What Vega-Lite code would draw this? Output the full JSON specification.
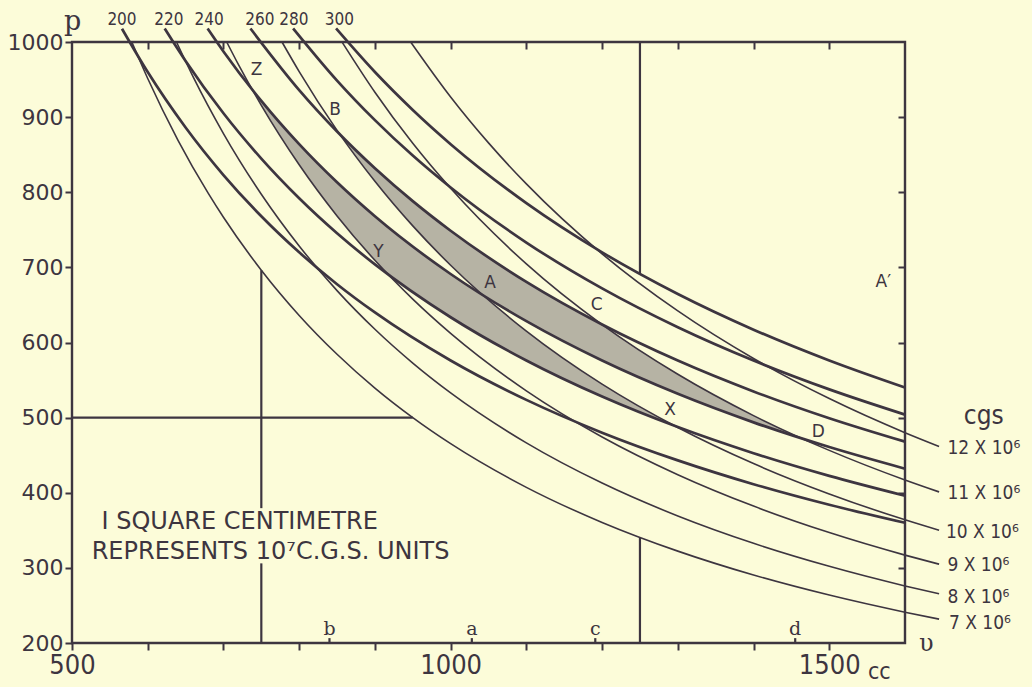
{
  "$schema": "https://vega.github.io/schema/vega-lite/v6.json",
  "width": 833,
  "height": 601,
  "autosize": "none",
  "padding": {"left": 72, "top": 42, "right": 127, "bottom": 44},
  "background": "#fcfcd9",
  "config": {
    "view": {"stroke": "#3d3540", "strokeWidth": 2.4},
    "axis": {"grid": false, "title": null}
  },
  "datasets": {
    "shade": [
      {"r": 1, "v": 738, "lo": 936.6, "hi": 936.6},
      {"r": 1, "v": 760, "lo": 898.9, "hi": 909.5},
      {"r": 1, "v": 800, "lo": 836.6, "hi": 864},
      {"r": 1, "v": 850, "lo": 768.5, "hi": 813.2},
      {"r": 1, "v": 900, "lo": 709.4, "hi": 768},
      {"r": 1, "v": 917.4, "lo": 690.6, "hi": 753.4},
      {"r": 1, "v": 950, "lo": 666.9, "hi": 727.6},
      {"r": 1, "v": 1000, "lo": 633.6, "hi": 691.2},
      {"r": 1, "v": 1042.8, "lo": 607.6, "hi": 662.8},
      {"r": 1, "v": 1100, "lo": 576, "hi": 615.1},
      {"r": 1, "v": 1150, "lo": 551, "hi": 578},
      {"r": 1, "v": 1200, "lo": 528, "hi": 544.5},
      {"r": 1, "v": 1250, "lo": 506.9, "hi": 514.3},
      {"r": 1, "v": 1296.2, "lo": 488.8, "hi": 488.8},
      {"r": 2, "v": 853.6, "lo": 877.2, "hi": 877.2},
      {"r": 2, "v": 900, "lo": 814.6, "hi": 832},
      {"r": 2, "v": 950, "lo": 755.2, "hi": 788.2},
      {"r": 2, "v": 1000, "lo": 702.8, "hi": 748.8},
      {"r": 2, "v": 1042.8, "lo": 662.8, "hi": 718.1},
      {"r": 2, "v": 1100, "lo": 628.4, "hi": 680.7},
      {"r": 2, "v": 1150, "lo": 601, "hi": 651.1},
      {"r": 2, "v": 1199.1, "lo": 576.4, "hi": 624.5},
      {"r": 2, "v": 1250, "lo": 553, "hi": 589.2},
      {"r": 2, "v": 1300, "lo": 531.7, "hi": 557.7},
      {"r": 2, "v": 1350, "lo": 512, "hi": 529},
      {"r": 2, "v": 1400, "lo": 493.7, "hi": 502.7},
      {"r": 2, "v": 1464.8, "lo": 471.9, "hi": 471.9}
    ],
    "segs": [
      {"v1": 750, "p1": 200, "v2": 750, "p2": 306},
      {"v1": 750, "p1": 379.5, "v2": 750, "p2": 696.2},
      {"v1": 1250, "p1": 200, "v2": 1250, "p2": 340.5},
      {"v1": 1250, "p1": 691.2, "v2": 1250, "p2": 1000},
      {"v1": 500, "p1": 500, "v2": 950, "p2": 500},
      {"v1": 840, "p1": 200, "v2": 840, "p2": 206.5},
      {"v1": 1028, "p1": 200, "v2": 1028, "p2": 206.5},
      {"v1": 1191, "p1": 200, "v2": 1191, "p2": 206.5},
      {"v1": 1455, "p1": 200, "v2": 1455, "p2": 206.5}
    ],
    "iso": [
      {"T": 200, "v": 566, "p": 1017.7}, {"T": 200, "v": 600, "p": 960}, {"T": 200, "v": 650, "p": 886.2}, {"T": 200, "v": 700, "p": 822.9}, {"T": 200, "v": 750, "p": 768}, {"T": 200, "v": 800, "p": 720}, {"T": 200, "v": 850, "p": 677.6}, {"T": 200, "v": 900, "p": 640}, {"T": 200, "v": 1000, "p": 576}, {"T": 200, "v": 1100, "p": 523.6}, {"T": 200, "v": 1200, "p": 480}, {"T": 200, "v": 1300, "p": 443.1}, {"T": 200, "v": 1400, "p": 411.4}, {"T": 200, "v": 1500, "p": 384}, {"T": 200, "v": 1600, "p": 360},
      {"T": 220, "v": 622.4, "p": 1018}, {"T": 220, "v": 650, "p": 974.8}, {"T": 220, "v": 700, "p": 905.1}, {"T": 220, "v": 750, "p": 844.8}, {"T": 220, "v": 800, "p": 792}, {"T": 220, "v": 850, "p": 745.4}, {"T": 220, "v": 900, "p": 704}, {"T": 220, "v": 1000, "p": 633.6}, {"T": 220, "v": 1100, "p": 576}, {"T": 220, "v": 1200, "p": 528}, {"T": 220, "v": 1300, "p": 487.4}, {"T": 220, "v": 1400, "p": 452.6}, {"T": 220, "v": 1500, "p": 422.4}, {"T": 220, "v": 1600, "p": 396},
      {"T": 240, "v": 679, "p": 1018}, {"T": 240, "v": 700, "p": 987.4}, {"T": 240, "v": 750, "p": 921.6}, {"T": 240, "v": 800, "p": 864}, {"T": 240, "v": 850, "p": 813.2}, {"T": 240, "v": 900, "p": 768}, {"T": 240, "v": 1000, "p": 691.2}, {"T": 240, "v": 1100, "p": 628.4}, {"T": 240, "v": 1200, "p": 576}, {"T": 240, "v": 1300, "p": 531.7}, {"T": 240, "v": 1400, "p": 493.7}, {"T": 240, "v": 1500, "p": 460.8}, {"T": 240, "v": 1600, "p": 432},
      {"T": 260, "v": 735.6, "p": 1018}, {"T": 260, "v": 800, "p": 936}, {"T": 260, "v": 850, "p": 880.9}, {"T": 260, "v": 900, "p": 832}, {"T": 260, "v": 950, "p": 788.2}, {"T": 260, "v": 1000, "p": 748.8}, {"T": 260, "v": 1100, "p": 680.7}, {"T": 260, "v": 1200, "p": 624}, {"T": 260, "v": 1300, "p": 576}, {"T": 260, "v": 1400, "p": 534.9}, {"T": 260, "v": 1500, "p": 499.2}, {"T": 260, "v": 1600, "p": 468},
      {"T": 280, "v": 792.1, "p": 1018}, {"T": 280, "v": 850, "p": 948.7}, {"T": 280, "v": 900, "p": 896}, {"T": 280, "v": 950, "p": 848.8}, {"T": 280, "v": 1000, "p": 806.4}, {"T": 280, "v": 1100, "p": 733.1}, {"T": 280, "v": 1200, "p": 672}, {"T": 280, "v": 1300, "p": 620.3}, {"T": 280, "v": 1400, "p": 576}, {"T": 280, "v": 1500, "p": 537.6}, {"T": 280, "v": 1600, "p": 504},
      {"T": 300, "v": 848.7, "p": 1018}, {"T": 300, "v": 900, "p": 960}, {"T": 300, "v": 950, "p": 909.5}, {"T": 300, "v": 1000, "p": 864}, {"T": 300, "v": 1100, "p": 785.5}, {"T": 300, "v": 1200, "p": 720}, {"T": 300, "v": 1300, "p": 664.6}, {"T": 300, "v": 1400, "p": 617.1}, {"T": 300, "v": 1500, "p": 576}, {"T": 300, "v": 1600, "p": 540}
    ],
    "adi": [
      {"S": 7, "v": 579, "p": 1000}, {"S": 7, "v": 600, "p": 951.4}, {"S": 7, "v": 640, "p": 869.2}, {"S": 7, "v": 680, "p": 798.5}, {"S": 7, "v": 700, "p": 766.7}, {"S": 7, "v": 750, "p": 696.2}, {"S": 7, "v": 800, "p": 636}, {"S": 7, "v": 850, "p": 584.3}, {"S": 7, "v": 900, "p": 539.3}, {"S": 7, "v": 950, "p": 500}, {"S": 7, "v": 1000, "p": 465.3}, {"S": 7, "v": 1100, "p": 407.2}, {"S": 7, "v": 1200, "p": 360.5}, {"S": 7, "v": 1300, "p": 322.3}, {"S": 7, "v": 1400, "p": 290.5}, {"S": 7, "v": 1500, "p": 263.8}, {"S": 7, "v": 1600, "p": 241}, {"S": 7, "v": 1645, "p": 231.8},
      {"S": 8, "v": 638, "p": 1000}, {"S": 8, "v": 660, "p": 953.5}, {"S": 8, "v": 700, "p": 878.1}, {"S": 8, "v": 750, "p": 797.3}, {"S": 8, "v": 800, "p": 728.4}, {"S": 8, "v": 850, "p": 669.1}, {"S": 8, "v": 900, "p": 617.6}, {"S": 8, "v": 950, "p": 572.6}, {"S": 8, "v": 1000, "p": 532.9}, {"S": 8, "v": 1100, "p": 466.4}, {"S": 8, "v": 1200, "p": 412.9}, {"S": 8, "v": 1300, "p": 369.1}, {"S": 8, "v": 1400, "p": 332.7}, {"S": 8, "v": 1500, "p": 302.1}, {"S": 8, "v": 1600, "p": 276}, {"S": 8, "v": 1645, "p": 265.5},
      {"S": 9, "v": 704.3, "p": 1000}, {"S": 9, "v": 720, "p": 969.5}, {"S": 9, "v": 750, "p": 915.7}, {"S": 9, "v": 800, "p": 836.6}, {"S": 9, "v": 850, "p": 768.5}, {"S": 9, "v": 900, "p": 709.4}, {"S": 9, "v": 950, "p": 657.7}, {"S": 9, "v": 1000, "p": 612.1}, {"S": 9, "v": 1100, "p": 535.6}, {"S": 9, "v": 1200, "p": 474.2}, {"S": 9, "v": 1300, "p": 424}, {"S": 9, "v": 1400, "p": 382.2}, {"S": 9, "v": 1500, "p": 347}, {"S": 9, "v": 1600, "p": 317}, {"S": 9, "v": 1645, "p": 304.9},
      {"S": 10, "v": 777.3, "p": 1000}, {"S": 10, "v": 800, "p": 960.6}, {"S": 10, "v": 850, "p": 882.4}, {"S": 10, "v": 900, "p": 814.6}, {"S": 10, "v": 950, "p": 755.2}, {"S": 10, "v": 1000, "p": 702.8}, {"S": 10, "v": 1100, "p": 615.1}, {"S": 10, "v": 1200, "p": 544.5}, {"S": 10, "v": 1300, "p": 486.8}, {"S": 10, "v": 1400, "p": 438.8}, {"S": 10, "v": 1500, "p": 398.4}, {"S": 10, "v": 1600, "p": 364}, {"S": 10, "v": 1645, "p": 350.1},
      {"S": 11, "v": 856.6, "p": 1000}, {"S": 11, "v": 900, "p": 933.2}, {"S": 11, "v": 950, "p": 865.1}, {"S": 11, "v": 1000, "p": 805.2}, {"S": 11, "v": 1100, "p": 704.6}, {"S": 11, "v": 1200, "p": 623.8}, {"S": 11, "v": 1300, "p": 557.7}, {"S": 11, "v": 1400, "p": 502.7}, {"S": 11, "v": 1500, "p": 456.4}, {"S": 11, "v": 1600, "p": 417}, {"S": 11, "v": 1645, "p": 401.1},
      {"S": 12, "v": 947.2, "p": 1000}, {"S": 12, "v": 1000, "p": 926.8}, {"S": 12, "v": 1050, "p": 865.7}, {"S": 12, "v": 1100, "p": 811.1}, {"S": 12, "v": 1200, "p": 718}, {"S": 12, "v": 1300, "p": 642}, {"S": 12, "v": 1400, "p": 578.7}, {"S": 12, "v": 1500, "p": 525.4}, {"S": 12, "v": 1600, "p": 480}, {"S": 12, "v": 1645, "p": 461.7}
    ],
    "pts": [
      {"t": "Z", "v": 743.9, "p": 962.7},
      {"t": "B", "v": 847.3, "p": 909.5},
      {"t": "Y", "v": 904.5, "p": 720.9},
      {"t": "A", "v": 1052, "p": 678.8},
      {"t": "C", "v": 1192.8, "p": 649.9},
      {"t": "X", "v": 1289.7, "p": 510.2},
      {"t": "D", "v": 1485.5, "p": 481.3},
      {"t": "A′", "v": 1571.3, "p": 680.9}
    ],
    "isolab": [
      {"t": "200", "v": 566, "p": 1029.3},
      {"t": "220", "v": 628, "p": 1029.3},
      {"t": "240", "v": 681, "p": 1029.3},
      {"t": "260", "v": 748, "p": 1029.3},
      {"t": "280", "v": 793, "p": 1029.3},
      {"t": "300", "v": 853, "p": 1029.3}
    ],
    "adilab": [
      {"t": "12 X 10⁶", "v": 1656, "p": 459.2},
      {"t": "11 X 10⁶", "v": 1656, "p": 400.1},
      {"t": "10 X 10⁶", "v": 1654, "p": 348.2},
      {"t": "9 X 10⁶", "v": 1656, "p": 303.8},
      {"t": "8 X 10⁶", "v": 1656, "p": 261.6},
      {"t": "7 X 10⁶", "v": 1658, "p": 226.2}
    ],
    "small": [
      {"t": "b", "v": 840, "p": 219, "s": 19},
      {"t": "a", "v": 1028, "p": 219, "s": 19},
      {"t": "c", "v": 1191, "p": 219, "s": 19},
      {"t": "d", "v": 1455, "p": 219, "s": 19},
      {"t": "p", "v": 501, "p": 1027, "s": 27},
      {"t": "υ", "v": 1628, "p": 199, "s": 24}
    ],
    "misc": [
      {"t": "cgs", "v": 1704, "p": 502, "s": 26},
      {"t": "cc", "v": 1566, "p": 161, "s": 23}
    ],
    "note": [
      {"t": "I  SQUARE  CENTIMETRE", "v": 539, "p": 360.4},
      {"t": "REPRESENTS  10⁷C.G.S.  UNITS", "v": 526, "p": 320.5}
    ]
  },
  "resolve": {"axis": {"x": "independent", "y": "independent"}},
  "layer": [
    {
      "data": {"name": "shade"},
      "mark": {"type": "area", "interpolate": "monotone", "fill": "#b6b3a4", "opacity": 1},
      "encoding": {
        "x": {"field": "v", "type": "quantitative", "scale": {"domain": [500, 1600], "nice": false, "zero": false},
          "axis": {"orient": "bottom", "values": [500, 600, 700, 800, 900, 1000, 1100, 1200, 1300, 1400, 1500],
            "labelExpr": "datum.value == 500 ? '500' : datum.value == 1000 ? '1000' : datum.value == 1500 ? '1500' : ''",
            "tickSize": 7, "tickWidth": 2, "tickColor": "#3d3540", "domain": false,
            "labelFont": "DejaVu Sans Condensed", "labelFontSize": 27, "labelColor": "#3d3540", "labelPadding": 2,
            "labelOverlap": false, "labelFlush": false, "labelBound": false, "title": null}},
        "y": {"field": "lo", "type": "quantitative", "scale": {"domain": [200, 1000], "nice": false, "zero": false},
          "axis": {"orient": "left", "values": [200, 300, 400, 500, 600, 700, 800, 900, 1000], "format": "d",
            "tickSize": 7, "tickWidth": 2, "tickColor": "#3d3540", "domain": false,
            "labelFont": "DejaVu Sans", "labelFontSize": 22, "labelColor": "#3d3540", "labelPadding": 2,
            "labelOverlap": false, "labelBound": false, "title": null}},
        "y2": {"field": "hi"},
        "detail": {"field": "r", "type": "nominal"}
      }
    },
    {
      "data": {"name": "segs"},
      "mark": {"type": "rule", "stroke": "#3d3540", "strokeWidth": 2.2},
      "encoding": {
        "x": {"field": "v1", "type": "quantitative", "axis": null},
        "y": {"field": "p1", "type": "quantitative", "axis": null},
        "x2": {"field": "v2"},
        "y2": {"field": "p2"}
      }
    },
    {
      "data": {"name": "iso"},
      "mark": {"type": "line", "interpolate": "monotone", "stroke": "#3d3540", "strokeWidth": 2.7},
      "encoding": {
        "x": {"field": "v", "type": "quantitative",
          "axis": {"orient": "top", "values": [600, 700, 800, 900, 1000, 1100, 1200, 1300, 1400, 1500],
            "labels": false, "domain": false, "tickSize": -7, "tickWidth": 2, "tickColor": "#3d3540", "title": null}},
        "y": {"field": "p", "type": "quantitative", "axis": null},
        "detail": {"field": "T", "type": "nominal"}
      }
    },
    {
      "data": {"name": "adi"},
      "mark": {"type": "line", "interpolate": "monotone", "stroke": "#3d3540", "strokeWidth": 1.6},
      "encoding": {
        "x": {"field": "v", "type": "quantitative", "axis": null},
        "y": {"field": "p", "type": "quantitative",
          "axis": {"orient": "right", "values": [300, 400, 500, 600, 700, 800, 900],
            "labels": false, "domain": false, "tickSize": -7, "tickWidth": 2, "tickColor": "#3d3540", "title": null}},
        "detail": {"field": "S", "type": "nominal"}
      }
    },
    {
      "data": {"name": "pts"},
      "mark": {"type": "text", "font": "DejaVu Sans", "fontSize": 17, "fill": "#3d3540", "align": "center", "baseline": "middle"},
      "encoding": {
        "x": {"field": "v", "type": "quantitative", "axis": null},
        "y": {"field": "p", "type": "quantitative", "axis": null},
        "text": {"field": "t"}
      }
    },
    {
      "data": {"name": "isolab"},
      "mark": {"type": "text", "font": "DejaVu Sans Condensed", "fontSize": 17, "fill": "#3d3540", "align": "center", "baseline": "middle"},
      "encoding": {
        "x": {"field": "v", "type": "quantitative", "axis": null},
        "y": {"field": "p", "type": "quantitative", "axis": null},
        "text": {"field": "t"}
      }
    },
    {
      "data": {"name": "adilab"},
      "mark": {"type": "text", "font": "DejaVu Sans Condensed", "fontSize": 19, "fill": "#3d3540", "align": "left", "baseline": "middle"},
      "encoding": {
        "x": {"field": "v", "type": "quantitative", "axis": null},
        "y": {"field": "p", "type": "quantitative", "axis": null},
        "text": {"field": "t"}
      }
    },
    {
      "data": {"name": "small"},
      "mark": {"type": "text", "font": "DejaVu Serif", "fill": "#3d3540", "align": "center", "baseline": "middle"},
      "encoding": {
        "x": {"field": "v", "type": "quantitative", "axis": null},
        "y": {"field": "p", "type": "quantitative", "axis": null},
        "size": {"field": "s", "type": "quantitative", "scale": null},
        "text": {"field": "t"}
      }
    },
    {
      "data": {"name": "misc"},
      "mark": {"type": "text", "font": "DejaVu Sans Condensed", "fill": "#3d3540", "align": "center", "baseline": "middle"},
      "encoding": {
        "x": {"field": "v", "type": "quantitative", "axis": null},
        "y": {"field": "p", "type": "quantitative", "axis": null},
        "size": {"field": "s", "type": "quantitative", "scale": null},
        "text": {"field": "t"}
      }
    },
    {
      "data": {"name": "note"},
      "mark": {"type": "text", "font": "DejaVu Sans", "fontSize": 24, "fill": "#3d3540", "align": "left", "baseline": "middle"},
      "encoding": {
        "x": {"field": "v", "type": "quantitative", "axis": null},
        "y": {"field": "p", "type": "quantitative", "axis": null},
        "text": {"field": "t"}
      }
    }
  ]
}
